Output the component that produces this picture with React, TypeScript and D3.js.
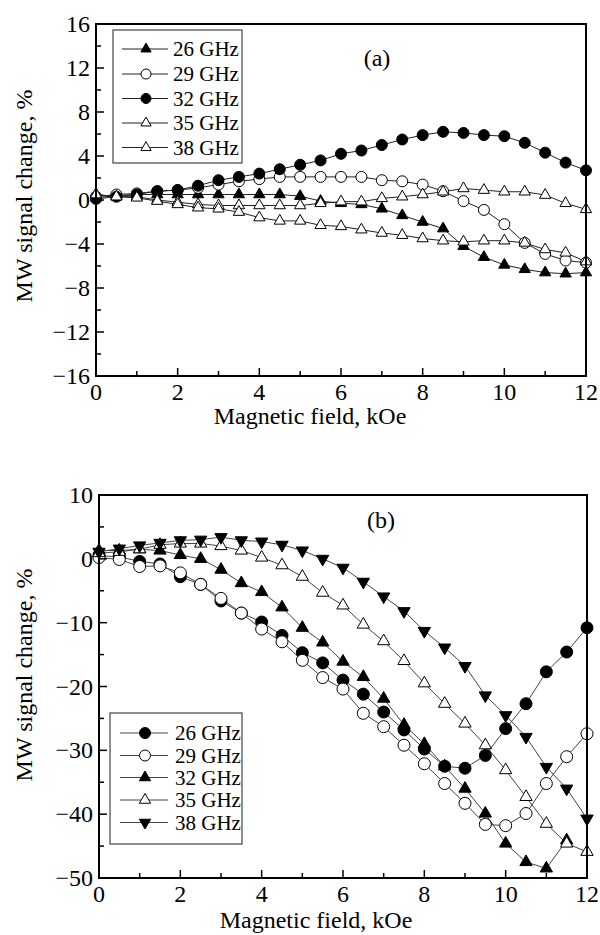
import React from "react";
import * as d3 from "d3";

// ---------- DATA ----------
const FIELD = [0, 0.5, 1, 1.5, 2, 2.5, 3, 3.5, 4, 4.5, 5, 5.5, 6, 6.5, 7, 7.5, 8, 8.5, 9, 9.5, 10, 10.5, 11, 11.5, 12];

// panel (a)
const A_26 = [0.2, 0.4, 0.5, 0.5, 0.5, 0.5, 0.5, 0.5, 0.5, 0.5, 0.35, -0.1, -0.3, -0.4, -0.8, -1.4, -2.0, -2.6, -4.2, -5.2, -5.9, -6.3, -6.6, -6.7, -6.6];
const A_29 = [0.3, 0.5, 0.6, 0.8, 0.9, 1.1, 1.4, 1.7, 1.9, 2.1, 2.1, 2.1, 2.1, 2.1, 1.8, 1.7, 1.4, 0.8, -0.1, -0.9, -2.2, -3.9, -4.9, -5.5, -5.7];
const A_32 = [0.1, 0.3, 0.5, 0.8, 0.9, 1.3, 1.8, 2.1, 2.4, 2.8, 3.2, 3.6, 4.2, 4.5, 5.0, 5.5, 5.9, 6.2, 6.1, 5.9, 5.8, 5.2, 4.3, 3.4, 2.7];
const A_35 = [0.5, 0.3, 0.3, 0.0, -0.2, -0.4, -0.5, -0.5, -0.5, -0.5, -0.5, -0.3, -0.15, -0.15, 0.15, 0.3, 0.5, 0.75, 1.05, 0.9, 0.75, 0.75, 0.45, -0.3, -0.85];
const A_38 = [0.5, 0.3, 0.2, -0.1, -0.4, -0.7, -0.8, -1.1, -1.6, -1.9, -1.9, -2.3, -2.4, -2.7, -3.0, -3.2, -3.5, -3.7, -3.8, -3.7, -3.7, -3.9, -4.5, -4.8, -5.6];

// panel (b)
const B_26 = [0.5, 0.3, -0.4, -0.8, -2.8, -4.0, -6.6, -8.5, -9.9, -12.0, -14.7, -16.3, -19.0, -21.2, -24.0, -26.8, -29.8, -32.5, -32.8, -30.8, -26.6, -22.7, -17.7, -14.6, -10.8];
const B_29 = [0.2, -0.1, -1.2, -1.1, -2.2, -4.0, -6.2, -8.5, -11.0, -13.0, -15.9, -18.6, -20.4, -24.2, -26.3, -29.2, -32.1, -35.2, -38.3, -41.6, -41.8, -39.9, -35.2, -31.0, -27.4];
const B_32 = [1.3, 1.3, 1.5, 1.3, 0.6, 0.0, -1.7, -3.8, -5.2, -7.6, -10.8, -13.1, -16.1, -18.5, -21.9, -26.0, -29.0, -32.5, -36.0, -39.9, -44.6, -47.5, -48.5, -44.1];
const B_35 = [0.9, 1.1, 1.5, 2.2, 2.4, 2.4, 2.0, 1.3, 0.2, -1.0, -2.8, -5.3, -7.3, -10.3, -12.9, -16.0, -19.5, -22.7, -25.8, -29.2, -33.1, -37.3, -41.5, -44.6, -45.9];
const B_38 = [1.1, 1.6, 2.1, 2.5, 2.9, 3.0, 3.4, 2.9, 2.7, 2.2, 1.3, 0.0, -1.4, -3.6, -5.9, -8.2, -11.3, -13.9, -16.8, -21.4, -24.5, -27.9, -32.6, -36.0, -40.7];

const SERIES_NAMES = ["26 GHz", "29 GHz", "32 GHz", "35 GHz", "38 GHz"];
const A_MARKERS = ["triUpFilled", "circleOpen", "circleFilled", "triUpOpen", "triUpOpen"];
const B_MARKERS = ["circleFilled", "circleOpen", "triUpFilled", "triUpOpen", "triDownFilled"];

const X_TICKS = [0, 2, 4, 6, 8, 10, 12];
const X_MINOR = [1, 3, 5, 7, 9, 11];
const A_Y_TICKS = [16, 12, 8, 4, 0, -4, -8, -12, -16];
const A_Y_MINOR = [14, 10, 6, 2, -2, -6, -10, -14];
const B_Y_TICKS = [10, 0, -10, -20, -30, -40, -50];
const B_Y_MINOR = [5, -5, -15, -25, -35, -45];

const FONT = "Liberation Serif, Times New Roman, DejaVu Serif, serif";

function fmt(v: number) {
  return v < 0 ? "\u2212" + Math.abs(v) : String(v);
}

function Marker({ kind, x, y, r }: { kind: string; x: number; y: number; r: number }) {
  if (kind.startsWith("circle")) {
    return (
      <circle cx={x} cy={y} r={r} fill={kind === "circleFilled" ? "#000" : "#fff"} stroke="#000" strokeWidth={1} />
    );
  }
  const side = r * 2.05;
  const area = (Math.sqrt(3) / 4) * side * side;
  const p = d3.symbol().type(d3.symbolTriangle).size(area)() as string;
  const filled = kind.endsWith("Filled");
  const rot = kind.startsWith("triDown") ? 180 : 0;
  return (
    <path
      d={p}
      transform={`translate(${x},${y}) rotate(${rot})`}
      fill={filled ? "#000" : "#fff"}
      stroke="#000"
      strokeWidth={1}
    />
  );
}

type PanelProps = {
  left: number;
  right: number;
  top: number;
  bottom: number;
  yDomain: [number, number];
  yTicks: number[];
  yMinor: number[];
  series: number[][];
  markers: string[];
  label: string;
  labelPos: [number, number];
  legend: { x0: number; y0: number; x1: number; y1: number; rowY: number[]; lineX: [number, number]; markX: number; textX: number };
  xTitleY: number;
  xTitleX: number;
  yTitleX: number;
  yTitleY: number;
  tickLabelY: number;
  markerR: number;
  lineColor: string;
};

const txt = { fontFamily: FONT };

function Panel(p: PanelProps) {
  const x = d3.scaleLinear().domain([0, 12]).range([p.left, p.right]);
  const y = d3.scaleLinear().domain(p.yDomain).range([p.bottom, p.top]);
  const line = d3
    .line<number>()
    .x((_, i) => x(FIELD[i]))
    .y((d) => y(d));
  const majorLen = 8;
  const minorLen = 5;
  return (
    <g>
      {p.series.map((s, si) => (
        <path key={"l" + si} d={line(s) as string} fill="none" stroke={p.lineColor} strokeWidth={1} />
      ))}
      {p.series.map((s, si) =>
        s.map((v, i) => <Marker key={"m" + si + "-" + i} kind={p.markers[si]} x={x(FIELD[i])} y={y(v)} r={p.markerR} />)
      )}
      <rect x={p.left} y={p.top} width={p.right - p.left} height={p.bottom - p.top} fill="none" stroke="#000" strokeWidth={2} />
      {X_TICKS.map((t) => (
        <g key={"xt" + t}>
          <line x1={x(t)} x2={x(t)} y1={p.bottom} y2={p.bottom - majorLen} stroke="#000" strokeWidth={1.5} />
          <text x={x(t)} y={p.tickLabelY} textAnchor="middle" style={txt} fontSize={24} fill="#000">
            {fmt(t)}
          </text>
        </g>
      ))}
      {X_MINOR.map((t) => (
        <line key={"xm" + t} x1={x(t)} x2={x(t)} y1={p.bottom} y2={p.bottom - minorLen} stroke="#000" strokeWidth={1.5} />
      ))}
      {p.yTicks.map((t) => (
        <g key={"yt" + t}>
          <line x1={p.left} x2={p.left + majorLen} y1={y(t)} y2={y(t)} stroke="#000" strokeWidth={1.5} />
          <text x={p.left - 6} y={y(t) + 8} textAnchor="end" style={txt} fontSize={24} fill="#000">
            {fmt(t)}
          </text>
        </g>
      ))}
      {p.yMinor.map((t) => (
        <line key={"ym" + t} x1={p.left} x2={p.left + minorLen} y1={y(t)} y2={y(t)} stroke="#000" strokeWidth={1.5} />
      ))}
      <text x={p.xTitleX} y={p.xTitleY} textAnchor="middle" style={txt} fontSize={24} fill="#000">
        Magnetic field, kOe
      </text>
      <text
        transform={`translate(${p.yTitleX},${p.yTitleY}) rotate(-90)`}
        textAnchor="middle"
        style={txt}
        fontSize={24}
        fill="#000"
      >
        MW signal change, %
      </text>
      <text x={p.labelPos[0]} y={p.labelPos[1]} textAnchor="middle" style={txt} fontSize={24} fill="#000">
        {p.label}
      </text>
      <rect
        x={p.legend.x0}
        y={p.legend.y0}
        width={p.legend.x1 - p.legend.x0}
        height={p.legend.y1 - p.legend.y0}
        fill="#fff"
        stroke="#444"
        strokeWidth={1.2}
      />
      {SERIES_NAMES.map((n, i) => (
        <g key={"lg" + i}>
          <line
            x1={p.legend.lineX[0]}
            x2={p.legend.lineX[1]}
            y1={p.legend.rowY[i]}
            y2={p.legend.rowY[i]}
            stroke={p.lineColor}
            strokeWidth={1}
          />
          <Marker kind={p.markers[i]} x={p.legend.markX} y={p.legend.rowY[i]} r={p.markerR - 0.5} />
          <text x={p.legend.textX} y={p.legend.rowY[i] + 7} style={txt} fontSize={21} fill="#000">
            {n}
          </text>
        </g>
      ))}
    </g>
  );
}

export default function App() {
  return (
    <svg
      width={600}
      height={935}
      viewBox="0 0 600 935"
      style={{ position: "absolute", left: 0, top: 0, background: "#fff" }}
    >
      <rect x={0} y={0} width={600} height={935} fill="#fff" />
      <Panel
        left={96}
        right={586}
        top={24}
        bottom={376}
        yDomain={[-16, 16]}
        yTicks={A_Y_TICKS}
        yMinor={A_Y_MINOR}
        series={[A_26, A_29, A_32, A_35, A_38]}
        markers={A_MARKERS}
        label="(a)"
        labelPos={[377, 66]}
        legend={{
          x0: 113,
          y0: 30,
          x1: 242,
          y1: 163,
          rowY: [49, 74, 98.5, 123, 147.5],
          lineX: [122, 168],
          markX: 146,
          textX: 173,
        }}
        xTitleX={310}
        xTitleY={424}
        yTitleX={32}
        yTitleY={196}
        tickLabelY={400}
        markerR={5.5}
        lineColor="#222"
      />
      <Panel
        left={99}
        right={587}
        top={495}
        bottom={878}
        yDomain={[-50, 10]}
        yTicks={B_Y_TICKS}
        yMinor={B_Y_MINOR}
        series={[B_26, B_29, B_32, B_35, B_38]}
        markers={B_MARKERS}
        label="(b)"
        labelPos={[381, 528]}
        legend={{
          x0: 110,
          y0: 713,
          x1: 242,
          y1: 844,
          rowY: [733, 755.5, 777.5, 800, 822.5],
          lineX: [120, 168],
          markX: 145,
          textX: 175,
        }}
        xTitleX={316}
        xTitleY={928}
        yTitleX={32}
        yTitleY={675}
        tickLabelY={902}
        markerR={6}
        lineColor="#444"
      />
    </svg>
  );
}
